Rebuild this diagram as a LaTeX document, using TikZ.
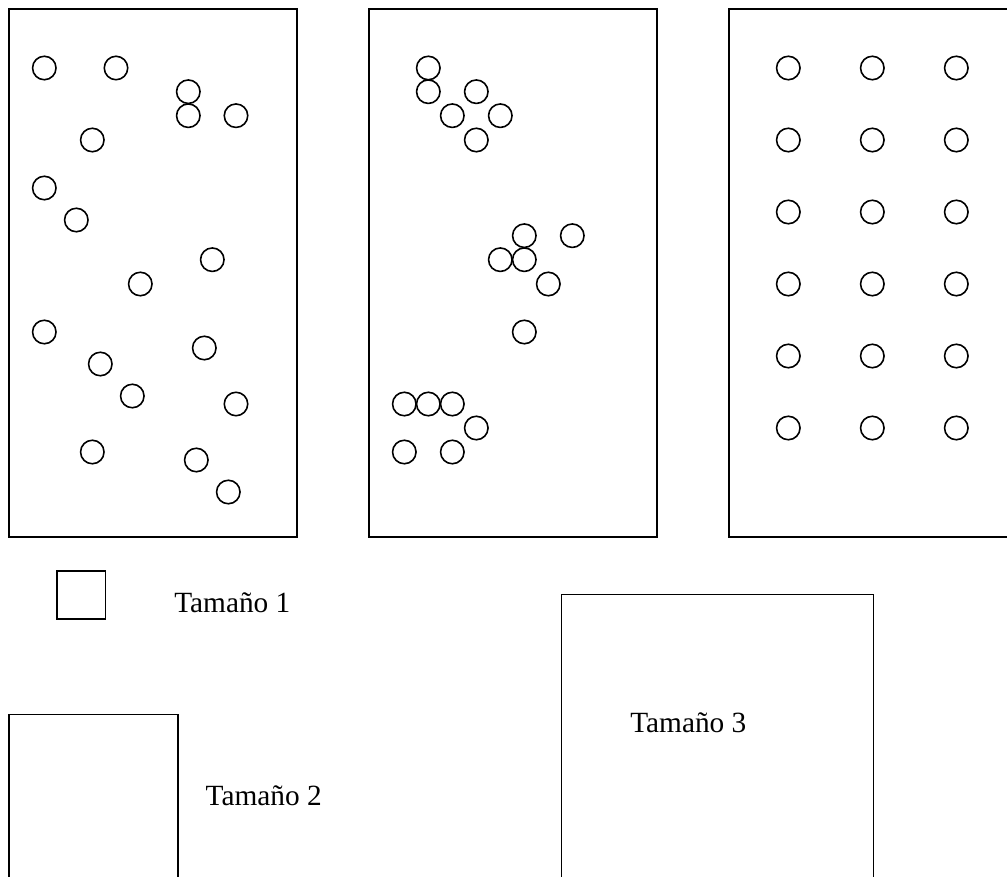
\documentclass[tikz,border=0pt]{standalone}
\usepackage{fontspec}
\setmainfont{Liberation Serif}
\begin{document}
\begin{tikzpicture}[x=0.75pt,y=-0.75pt,
  panel/.style={draw,line width=1.5pt,rectangle,anchor=north west,inner sep=0pt,minimum width=216pt,minimum height=396pt},
  ball/.style={draw,line width=1.2pt,circle,inner sep=0pt,minimum size=17.6pt},
  sizebox/.style={draw,line width=1.3pt,rectangle,anchor=north west,inner sep=0pt},
  lbl/.style={anchor=base west,inner sep=0pt,font=\fontsize{22}{26}\selectfont}]
\clip (0,0) rectangle (1007,877);
% panels
\node[panel] (p1) at (8,8) {};
\node[panel] (p2) at (368,8) {};
\node[panel] (p3) at (728,8) {};
% random circles
\foreach \x/\y [count=\i] in {44.3/68,116/68,188.3/91.7,188.3/115.7,236/115.7,92.3/140,44.3/188,76.3/220,212.3/259.7,140.3/284,44.3/332,100.3/364,204.3/348,132.3/396,236/404,92.3/452,196.3/460,228.3/492}
  \node[ball] (a\i) at (\x,\y) {};
% clustered circles
\foreach \x/\y [count=\i] in {428.3/68,428.3/91.7,476.3/91.7,452.3/115.7,500.3/115.7,476.3/140,524.3/235.7,572.3/235.7,500.3/259.7,524.3/259.7,548.3/284,524.3/332,404.3/404,428.3/404,452.3/404,476.3/428,404.3/452,452.3/452}
  \node[ball] (b\i) at (\x,\y) {};
% regular grid
\foreach \r in {0,...,5}
  \foreach \c in {0,...,2}
    \node[ball] (g\r\c) at ({788.3+84*\c},{68+72*\r}) {};
% size boxes
\node[sizebox,minimum width=36.4pt,minimum height=36.2pt] (s1) at (56,570) {};
\node[sizebox,minimum width=126.8pt,minimum height=140pt] (s2) at (8,713.7) {};
\node[sizebox,minimum width=234pt,minimum height=230pt] (s3) at (560.5,593.5) {};
% labels
\node[lbl] (t1) at (174,612) {Tamaño 1};
\node[lbl] (t2) at (205.4,805) {Tamaño 2};
\node[lbl] (t3) at (630,732.3) {Tamaño 3};
\end{tikzpicture}
\end{document}
